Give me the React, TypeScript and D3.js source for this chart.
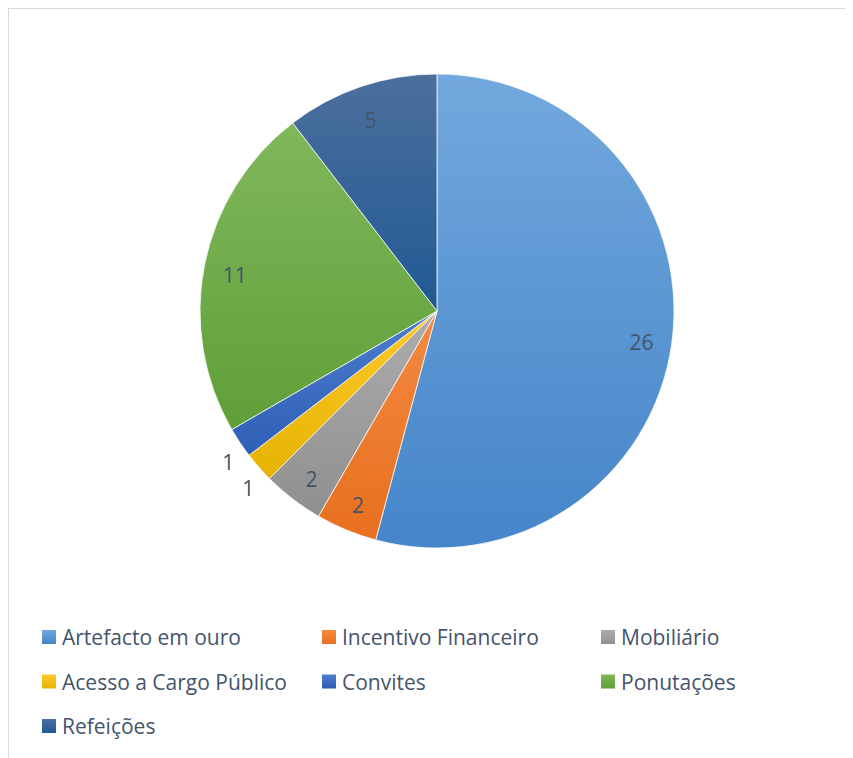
import React from "react";
import * as d3 from "d3";

const categories = [
  "Artefacto em ouro",
  "Incentivo Financeiro",
  "Mobiliário",
  "Acesso a Cargo Público",
  "Convites",
  "Ponutações",
  "Refeições",
];
const values = [26, 2, 2, 1, 1, 11, 5];
const topColors = ["#72A8DD", "#F38A42", "#ADADAD", "#FFCA2C", "#4D7DCC", "#80B85C", "#4C6F9D"];
const bottomColors = ["#4585C9", "#E86F1E", "#8F8F8F", "#E6B200", "#2E5FB6", "#5F9F38", "#1F5A94"];

const W = 845;
const H = 750;
const cx = 429;
const cy = 303;
const R = 237;
const TEXT = "#44546A";
const FONT = "'Open Sans', sans-serif";

export default function App() {
  const pie = d3
    .pie<number>()
    .sort(null)
    .value((d) => d)(values);
  const arc = d3.arc<d3.PieArcDatum<number>>().innerRadius(0).outerRadius(R);
  const inArc = d3.arc<d3.PieArcDatum<number>>().innerRadius(R * 0.87).outerRadius(R * 0.87);
  const outArc = d3.arc<d3.PieArcDatum<number>>().innerRadius(R + 14).outerRadius(R + 14);

  const legendCols = 3;
  const colX = d3.scaleOrdinal<number, number>().domain([0, 1, 2]).range([34, 314, 593]);
  const rowY = d3.scaleLinear().domain([0, 1]).range([629, 673.5]);

  return (
    <svg width={W} height={H} style={{ display: "block" }} fontFamily={FONT}>
      <defs>
        {categories.map((c, i) => (
          <linearGradient key={c} id={`g${i}`} x1="0" y1="0" x2="0" y2="1">
            <stop offset="0" stopColor={topColors[i]} />
            <stop offset="1" stopColor={bottomColors[i]} />
          </linearGradient>
        ))}
      </defs>
      <rect x={0.5} y={0.5} width={W + 10} height={H + 10} fill="#fff" stroke="#D9D9D9" />
      <g transform={`translate(${cx},${cy})`}>
        {pie.map((p, i) => (
          <path key={i} d={arc(p) || ""} fill={`url(#g${i})`} stroke="#fff" strokeWidth={0.75} />
        ))}
        {pie.map((p, i) => {
          const small = p.endAngle - p.startAngle < 0.15;
          const [x, y] = small ? outArc.centroid(p) : inArc.centroid(p);
          return (
            <text
              key={`l${i}`}
              x={x}
              y={y}
              dy={small ? 12 : 4}
              textAnchor="middle"
              dominantBaseline="central"
              fontSize={21}
              fill={TEXT}
            >
              {values[i]}
            </text>
          );
        })}
      </g>
      <g>
        {categories.map((c, i) => {
          const col = i % legendCols;
          const row = Math.floor(i / legendCols);
          const x = colX(col);
          const y = rowY(row);
          return (
            <g key={c} transform={`translate(${x},${y})`}>
              <rect x={0} y={-7} width={14} height={14} fill={`url(#g${i})`} />
              <text x={20} y={0} dominantBaseline="central" fontSize={21} fill={TEXT}>
                {c}
              </text>
            </g>
          );
        })}
      </g>
    </svg>
  );
}
